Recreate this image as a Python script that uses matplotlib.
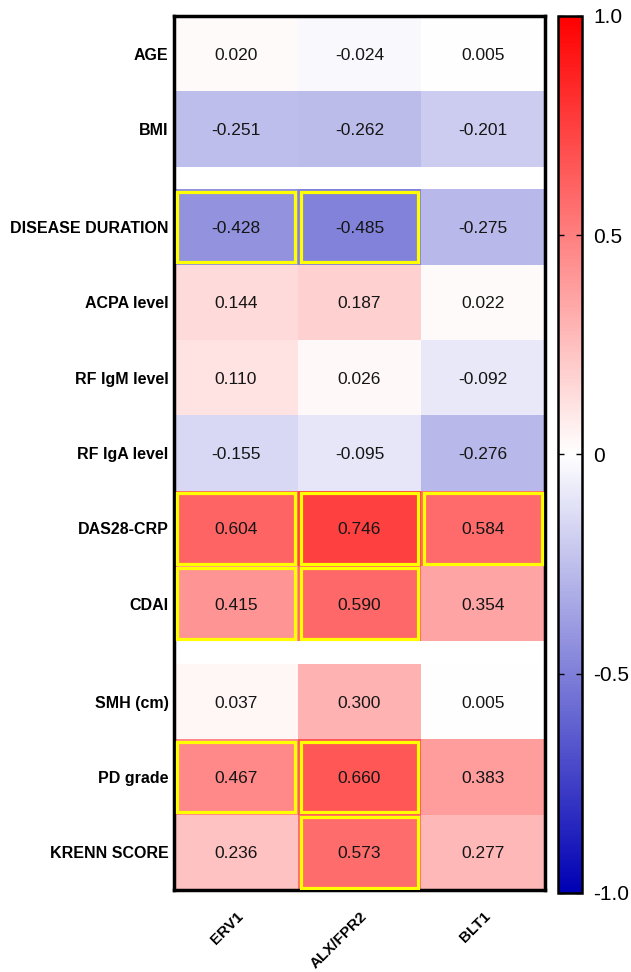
import numpy as np
import matplotlib
matplotlib.use('Agg')
import matplotlib.pyplot as plt
from matplotlib.colors import LinearSegmentedColormap
from matplotlib.patches import Rectangle

plt.rcParams['font.family'] = ['Liberation Sans', 'DejaVu Sans']

RECEPTORS = ['ERV1', 'ALX/FPR2', 'BLT1']
VARIABLES = ['AGE', 'BMI', 'DISEASE DURATION', 'ACPA level', 'RF IgM level',
             'RF IgA level', 'DAS28-CRP', 'CDAI', 'SMH (cm)', 'PD grade',
             'KRENN SCORE']
# spearman r per variable (rows) x receptor (cols)
ERV1 = [0.020, -0.251, -0.428, 0.144, 0.110, -0.155, 0.604, 0.415, 0.037, 0.467, 0.236]
ALX_FPR2 = [-0.024, -0.262, -0.485, 0.187, 0.026, -0.095, 0.746, 0.590, 0.300, 0.660, 0.573]
BLT1 = [0.005, -0.201, -0.275, 0.022, -0.092, -0.276, 0.584, 0.354, 0.005, 0.383, 0.277]
# significant cells (row, col)
SIGNIFICANT = [(2, 0), (2, 1), (6, 0), (6, 1), (6, 2), (7, 0), (7, 1),
               (9, 0), (9, 1), (10, 1)]
GAP_AFTER = [1, 7]  # blank band below these rows

GAP = 0.3
cmap = LinearSegmentedColormap.from_list('bwr_gp', ['#0000b4', '#ffffff', '#ff0000'])

vals = np.array([ERV1, ALX_FPR2, BLT1]).T

# build row edges with blank bands, top to bottom
row_top = []
y = 0.0
for i in range(len(VARIABLES)):
    row_top.append(y)
    y += 1.0
    if i in GAP_AFTER:
        y += GAP
total_h = y

fig = plt.figure(figsize=(6.31, 9.72), dpi=100)
ax = fig.add_axes([0.2758, 0.0844, 0.588, 0.899])
cax = fig.add_axes([0.8843, 0.0813, 0.038, 0.9023])

for i, top in enumerate(row_top):
    edges_y = [top, top + 1]
    mesh = ax.pcolormesh([0, 1, 2, 3], edges_y, vals[i:i + 1, :], cmap=cmap,
                         vmin=-1, vmax=1)
    for j in range(3):
        ax.text(j + 0.5, top + 0.52, f"{vals[i, j]:.3f}", ha='center', va='center',
                fontsize=12.5, color='#151515')

inset = 0.025
for (i, j) in SIGNIFICANT:
    top = row_top[i]
    ax.add_patch(Rectangle((j + inset, top + inset * 1.2), 1 - 2 * inset, 1 - 2 * inset * 1.2,
                           fill=False, edgecolor='#ffff00', linewidth=2.3, zorder=3))

ax.set_xlim(0, 3)
ax.set_ylim(total_h, 0)
ax.set_yticks([t + 0.5 for t in row_top])
ax.set_yticklabels(VARIABLES, fontsize=11.5, fontweight='bold')
ax.set_xticks([0.5, 1.5, 2.5])
ax.set_xticklabels(RECEPTORS, fontsize=11, fontweight='bold', rotation=45,
                   ha='right', rotation_mode='anchor')
ax.tick_params(axis='both', length=0, pad=4)
ax.tick_params(axis='x', pad=14)
for spine in ax.spines.values():
    spine.set_linewidth(2.5)
    spine.set_edgecolor('black')

cb = fig.colorbar(mesh, cax=cax, ticks=[-1, -0.5, 0, 0.5, 1])
cb.ax.set_yticklabels(['-1.0', '-0.5', '0', '0.5', '1.0'], fontsize=15)
cb.ax.tick_params(direction='in', length=4, width=1, left=True, right=True, pad=8)
cb.outline.set_linewidth(1.8)

fig.savefig('out.png', dpi=100, facecolor='white')
